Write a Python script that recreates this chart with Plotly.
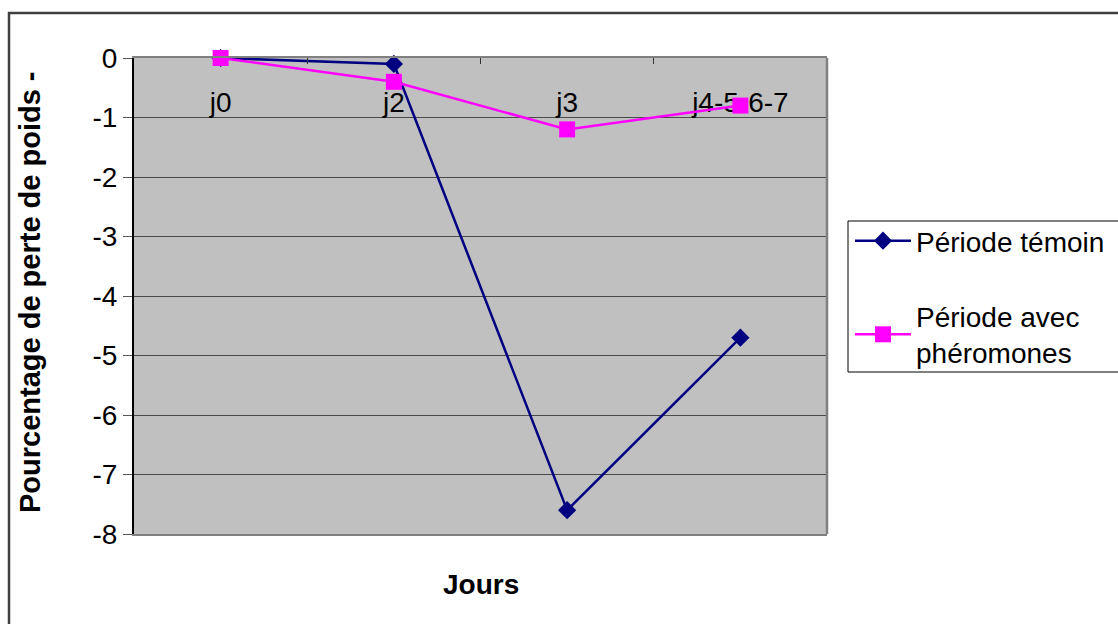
import plotly.graph_objects as go

# Données : perte de poids (%) par jour
jours = ["j0", "j2", "j3", "j4-5-6-7"]
temoin = [0, -0.1, -7.6, -4.7]
pheromones = [0, -0.4, -1.2, -0.8]

# Graduations de l'axe vertical
y_ticks = [0, -1, -2, -3, -4, -5, -6, -7, -8]
y_labels = ["0", "-1", "-2", "-3", "-4", "-5", "-6", "-7", "-8"]

nom_temoin = "Période témoin"
nom_pheromones = "Période avec<br>phéromones"

W, H = 1118, 624
L, R, T, B = 134, 291, 58, 90
pw, ph = W - L - R, H - T - B


def px_x(p):
    return (p - L) / pw


def px_y(p):
    return (H - B - p) / ph


xs = list(range(len(jours)))
x_range = [-0.5, len(jours) - 0.5]
FONT = "Liberation Sans, Arial, sans-serif"
SIZE = 28

fig = go.Figure()
fig.add_trace(go.Scatter(
    x=xs, y=temoin, name=nom_temoin, mode="lines+markers",
    line=dict(color="#000080", width=2.5),
    marker=dict(symbol="diamond", size=14, color="#000080"),
    legendgroup="a", cliponaxis=False,
))
fig.add_trace(go.Scatter(
    x=xs, y=pheromones, name=nom_pheromones, mode="lines+markers",
    line=dict(color="#FF00FF", width=2.5),
    marker=dict(symbol="square", size=16, color="#FF00FF"),
    legendgroup="b", cliponaxis=False, xaxis="x2",
))

fig.update_layout(
    width=W, height=H,
    margin=dict(l=L, r=R, t=T, b=B, pad=0, autoexpand=False),
    paper_bgcolor="white",
    plot_bgcolor="#C0C0C0",
    font=dict(family=FONT, size=SIZE, color="black"),
    showlegend=True,
    legend=dict(
        xref="container", yref="container",
        x=850 / W, y=1 - 216 / H, xanchor="left", yanchor="top",
        bgcolor="rgba(0,0,0,0)", borderwidth=0, itemwidth=56,
        font=dict(size=SIZE, color="black"), tracegroupgap=36,
        traceorder="grouped",
    ),
    # axe des catégories : ligne en haut (y = 0), graduations vers l'intérieur
    xaxis=dict(
        range=x_range,
        side="top",
        tickvals=[i + 0.5 for i in range(-1, len(jours))],
        showticklabels=False,
        ticks="inside", ticklen=6, tickcolor="#333333",
        showline=True, linecolor="#808080", linewidth=2, mirror=True,
        showgrid=False, zeroline=False,
    ),
    # étiquettes des catégories, sous la ligne du zéro
    xaxis2=dict(
        range=x_range, matches="x", overlaying="x",
        anchor="free", position=px_y(83), side="bottom",
        layer="below traces",
        tickvals=xs, ticktext=jours,
        tickfont=dict(color="black", size=SIZE),
        ticks="", showline=False, showgrid=False, zeroline=False,
    ),
    yaxis=dict(
        range=[-8, 0],
        tickvals=y_ticks, ticktext=y_labels,
        tickfont=dict(color="black", size=SIZE),
        ticks="outside", ticklen=9, tickcolor="#555555",
        showline=True, linecolor="black", linewidth=2,
        showgrid=True, gridcolor="#4a4a4a", gridwidth=1,
        zeroline=False,
    ),
    shapes=[
        # bord droit de la zone de tracé
        dict(type="line", xref="paper", yref="paper", x0=1, x1=1, y0=0, y1=1,
             line=dict(color="#808080", width=2.5)),
        # cadre de la légende
        dict(type="rect", xref="paper", yref="paper",
             x0=px_x(848), x1=px_x(1135), y0=px_y(372), y1=px_y(221),
             line=dict(color="black", width=1)),
        # cadre du graphique
        dict(type="rect", xref="paper", yref="paper",
             x0=px_x(9), x1=px_x(1160), y0=px_y(680), y1=px_y(13),
             line=dict(color="#404040", width=2.5)),
    ],
    annotations=[
        dict(text="<b>Pourcentage de perte de poids -</b>", textangle=-90,
             xref="paper", yref="paper", x=px_x(30), y=px_y(292),
             xanchor="center", yanchor="middle", showarrow=False,
             font=dict(size=SIZE + 1)),
        dict(text="<b>Jours</b>", xref="paper", yref="paper",
             x=0.5, y=px_y(584), xanchor="center", yanchor="middle",
             showarrow=False, font=dict(size=SIZE)),
    ],
)

fig.write_html("out.html")
